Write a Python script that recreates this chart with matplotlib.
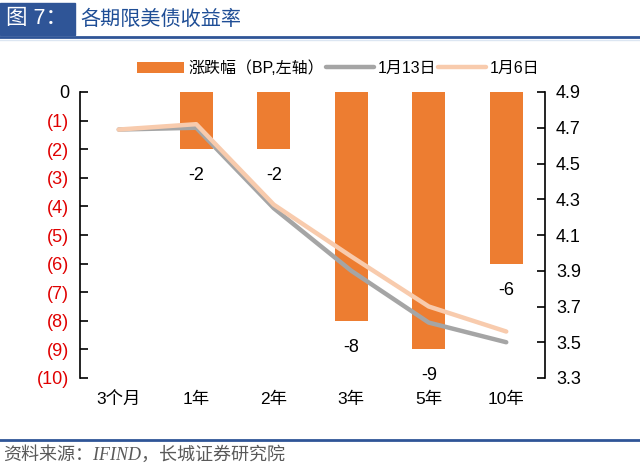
import matplotlib.pyplot as plt
import numpy as np

plt.rcParams['font.family'] = ['Liberation Sans', 'Noto Sans CJK SC', 'DejaVu Sans']

categories = ["3个月", "1年", "2年", "3年", "5年", "10年"]
change_bp = [0, -2, -2, -8, -9, -6]
yield_0113 = [4.69, 4.70, 4.25, 3.90, 3.61, 3.50]
yield_0106 = [4.69, 4.72, 4.27, 3.98, 3.70, 3.56]
left_ticks = list(range(0, -11, -1))
right_ticks = [3.3, 3.5, 3.7, 3.9, 4.1, 4.3, 4.5, 4.7, 4.9]

bar_color = "#ED7D31"
gray = "#A5A5A5"
light_orange = "#F8CBAD"
blue = "#2F5597"

fig = plt.figure(figsize=(6.4, 4.68), dpi=100)
ax = fig.add_axes([80 / 640, 1 - 378 / 468, 465 / 640, 286 / 468])
x = np.arange(len(categories))

bars = ax.bar(x, change_bp, width=0.42, color=bar_color, label="涨跌幅（BP,左轴）", zorder=2)
ax.bar_label(bars, labels=[str(v) if v != 0 else "" for v in change_bp],
             padding=13, fontsize=13)
ax.set_ylim(-10, 0)
ax.set_xlim(-0.5, len(categories) - 0.5)
ax.set_yticks(left_ticks)
ax.set_yticklabels(["0" if v == 0 else f"({-v})" for v in left_ticks], fontsize=13)
for lbl, v in zip(ax.get_yticklabels(), left_ticks):
    lbl.set_color("black" if v == 0 else "#E00000")
ax.set_xticks(x)
ax.set_xticklabels(categories, fontsize=12.5)
ax.tick_params(axis="x", length=0, pad=10)
ax.tick_params(axis="y", direction="in", length=6, width=1.2, pad=8)
for s in ["top", "bottom", "right"]:
    ax.spines[s].set_visible(False)
ax.spines["left"].set_linewidth(1.2)

ax2 = ax.twinx()
ax2.plot(x, yield_0113, color=gray, lw=3.2, label="1月13日", solid_capstyle="round")
ax2.plot(x, yield_0106, color=light_orange, lw=3.2, label="1月6日", solid_capstyle="round")
ax2.set_ylim(3.3, 4.9)
ax2.set_yticks(right_ticks)
ax2.set_yticklabels([f"{v:.1f}" for v in right_ticks], fontsize=13)
ax2.tick_params(axis="y", direction="in", length=6, width=1.2, pad=8)
for s in ["top", "bottom", "left"]:
    ax2.spines[s].set_visible(False)
ax2.spines["right"].set_linewidth(1.2)

h1, l1 = ax.get_legend_handles_labels()
h2, l2 = ax2.get_legend_handles_labels()
fig.legend(h1 + h2, l1 + l2, ncol=3, frameon=False, fontsize=11.5,
           loc="center", bbox_to_anchor=(338 / 640, 1 - 68 / 468),
           handlelength=3.0, handletextpad=0.25, columnspacing=0.1)

# title bar
fig.patches.append(plt.Rectangle((0, 1 - 35 / 468), 75 / 640, 32 / 468,
                                 transform=fig.transFigure, color=blue, zorder=0))
fig.text(6 / 640, 1 - 19 / 468, "图 7：", color="white", fontsize=15.5,
         va="center", ha="left")
fig.text(80 / 640, 1 - 19 / 468, "各期限美债收益率", color="#1F4E96", fontsize=14.5,
         va="center", ha="left")
fig.add_artist(plt.Line2D([0, 1], [1 - 37 / 468] * 2, color=blue, lw=2))
fig.add_artist(plt.Line2D([0, 1], [1 - 40 / 468] * 2, color="#DCE6F2", lw=1))

# footer
fig.add_artist(plt.Line2D([0, 1], [1 - 440 / 468] * 2, color=blue, lw=2))
fig.text(3 / 640, 1 - 455 / 468, "资料来源：IFIND，长城证券研究院", color="#595959",
         fontsize=13, style="italic", va="center", ha="left",
         family=["Liberation Serif", "Noto Sans CJK SC"])

fig.savefig("out.png", dpi=100)
